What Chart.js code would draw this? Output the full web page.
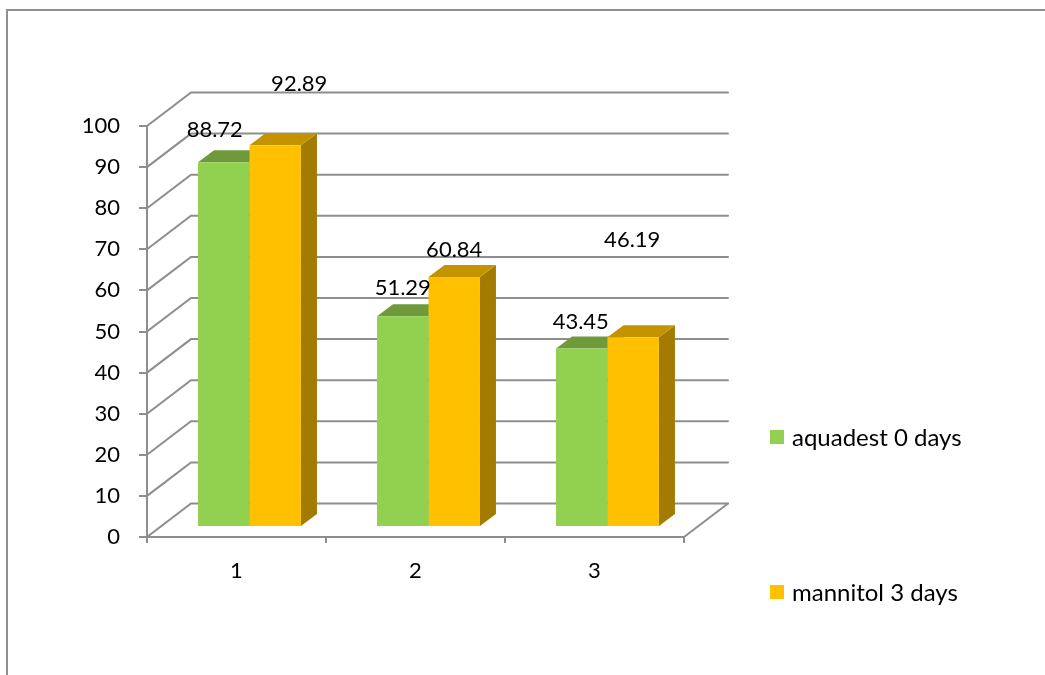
<!DOCTYPE html>
<html>
<head>
<meta charset="utf-8">
<script src="https://cdn.jsdelivr.net/npm/chart.js@4.4.1/dist/chart.umd.min.js"></script>
<style>
  html, body { margin: 0; padding: 0; background: #ffffff; }
  #wrap { width: 1045px; height: 675px; position: relative; }
</style>
</head>
<body>
<div id="wrap"><canvas id="chart" width="1045" height="675"></canvas></div>
<script>
// Values
const categories = ['1', '2', '3'];
const seriesNames = ['aquadest 0 days', 'mannitol 3 days'];
const aquadest = [88.72, 51.29, 43.45];
const mannitol = [92.89, 60.84, 46.19];
const yTickValues = [0, 10, 20, 30, 40, 50, 60, 70, 80, 90, 100];

// Look and 3D geometry
const FONT = 'Lato, "Open Sans", sans-serif';
const NUM_SIZE = 22;
const LEGEND_SIZE = 24;
const LINE = '#8e8e8e';
const frontColors = ['#92D050', '#FFC000'];
const topColors = ['#6E9A3C', '#C49400'];
const sideColors = ['#5C8232', '#A37B00'];
const WALL = { dx: 44, dy: -33.5 };      // depth of the plot box
const BAR_SHIFT = { dx: 13, dy: -10 };   // bar fronts sit partway into the box
const BAR_DEPTH = { dx: 16, dy: -12 };   // bar thickness in depth
const LABEL_GAP = -27;
const labelNudge = [
  [[-9, -5], [0, -1], [-1, 0]],
  [[24, -34], [0, 0], [-1, -70]]
];

function poly(ctx, pts, fill) {
  ctx.beginPath();
  ctx.moveTo(pts[0][0], pts[0][1]);
  for (let i = 1; i < pts.length; i++) ctx.lineTo(pts[i][0], pts[i][1]);
  ctx.closePath();
  ctx.fillStyle = fill;
  ctx.fill();
}

const box3d = {
  id: 'box3d',
  beforeDraw(chart) {
    const ctx = chart.ctx;
    ctx.save();
    ctx.fillStyle = '#ffffff';
    ctx.fillRect(0, 0, chart.width, chart.height);
    ctx.strokeStyle = '#8f8f8f';
    ctx.lineWidth = 2;
    ctx.beginPath();
    ctx.moveTo(7, 676);
    ctx.lineTo(7, 10);
    ctx.lineTo(1046, 10);
    ctx.stroke();
    ctx.restore();
  },
  beforeDatasetsDraw(chart) {
    const ctx = chart.ctx;
    const ys = chart.scales.y;
    const a = chart.chartArea;
    ctx.save();
    ctx.strokeStyle = LINE;
    ctx.lineWidth = 2;
    ctx.lineCap = 'round';
    // back wall gridlines and left wall diagonals
    yTickValues.forEach(v => {
      const y = ys.getPixelForValue(v);
      ctx.beginPath();
      ctx.moveTo(a.left, y);
      ctx.lineTo(a.left + WALL.dx, y + WALL.dy);
      ctx.lineTo(a.right + WALL.dx, y + WALL.dy);
      ctx.stroke();
    });
    // right edge of the floor
    const y0 = ys.getPixelForValue(0);
    ctx.beginPath();
    ctx.moveTo(a.right, y0);
    ctx.lineTo(a.right + WALL.dx, y0 + WALL.dy);
    ctx.stroke();

    // tops and sides of the bars
    chart.data.datasets.forEach((ds, di) => {
      const meta = chart.getDatasetMeta(di);
      meta.data.forEach(el => {
        const w = el.width;
        const l = el.x - w / 2 + BAR_SHIFT.dx;
        const r = el.x + w / 2 + BAR_SHIFT.dx;
        const t = el.y + BAR_SHIFT.dy;
        const b = el.base + BAR_SHIFT.dy;
        poly(ctx, [[r, t], [r + BAR_DEPTH.dx, t + BAR_DEPTH.dy],
                   [r + BAR_DEPTH.dx, b + BAR_DEPTH.dy], [r, b]], sideColors[di]);
        poly(ctx, [[l, t], [r, t], [r + BAR_DEPTH.dx, t + BAR_DEPTH.dy],
                   [l + BAR_DEPTH.dx, t + BAR_DEPTH.dy]], topColors[di]);
      });
    });
    ctx.restore();
    // front faces are drawn by the bar controller, pushed into the box
    ctx.save();
    ctx.translate(BAR_SHIFT.dx, BAR_SHIFT.dy);
  },
  afterDatasetsDraw(chart) {
    chart.ctx.restore();
  },
  afterDraw(chart) {
    const ctx = chart.ctx;
    ctx.save();
    ctx.fillStyle = '#000000';
    ctx.font = NUM_SIZE + 'px ' + FONT;
    ctx.textAlign = 'center';
    ctx.textBaseline = 'middle';
    chart.data.datasets.forEach((ds, di) => {
      const meta = chart.getDatasetMeta(di);
      meta.data.forEach((el, i) => {
        const n = labelNudge[di][i];
        const x = el.x + BAR_SHIFT.dx + n[0];
        const y = el.y + BAR_SHIFT.dy + LABEL_GAP + n[1];
        ctx.fillText(ds.data[i].toFixed(2), x, y);
      });
    });
    // legend
    const legendTops = [430, 585];
    ctx.textAlign = 'left';
    ctx.font = LEGEND_SIZE + 'px ' + FONT;
    chart.data.datasets.forEach((ds, di) => {
      ctx.fillStyle = frontColors[di];
      ctx.fillRect(770, legendTops[di], 14, 14);
      ctx.fillStyle = '#000000';
      ctx.fillText(ds.label, 792, legendTops[di] + 8);
    });
    ctx.restore();
  }
};

new Chart(document.getElementById('chart'), {
  type: 'bar',
  data: {
    labels: categories,
    datasets: [
      { label: seriesNames[0], data: aquadest, backgroundColor: frontColors[0], borderWidth: 0, clip: false },
      { label: seriesNames[1], data: mannitol, backgroundColor: frontColors[1], borderWidth: 0, clip: false }
    ]
  },
  options: {
    responsive: false,
    animation: false,
    devicePixelRatio: 1,
    layout: { padding: { left: 0, top: 126, right: 361, bottom: 0 } },
    plugins: { legend: { display: false }, tooltip: { enabled: false } },
    datasets: { bar: { categoryPercentage: 0.575, barPercentage: 1.0 } },
    scales: {
      x: {
        grid: { drawOnChartArea: false, drawTicks: true, tickLength: 6, color: LINE, lineWidth: 2 },
        border: { display: true, color: LINE, width: 2 },
        ticks: { color: '#000000', font: { family: FONT, size: NUM_SIZE }, padding: 15 },
        afterFit(s) { s.height = 675 - 537; }
      },
      y: {
        min: 0, max: 100,
        grid: { drawOnChartArea: false, drawTicks: true, tickLength: 8, color: LINE, lineWidth: 2 },
        border: { display: true, color: LINE, width: 2 },
        ticks: { stepSize: 10, color: '#000000', font: { family: FONT, size: NUM_SIZE }, padding: 19 },
        afterFit(s) { s.width = 147; }
      }
    }
  },
  plugins: [box3d]
});
</script>
</body>
</html>
